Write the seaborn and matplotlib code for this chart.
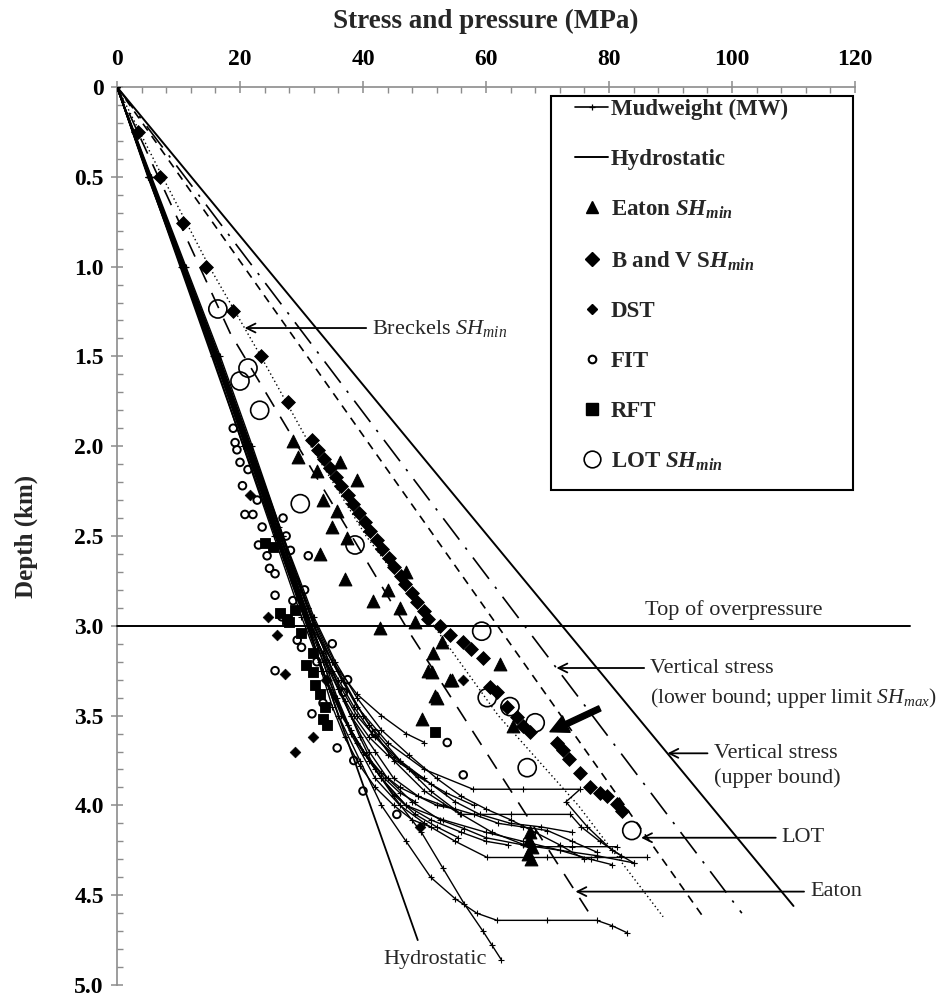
import numpy as np
import pandas as pd
import matplotlib
matplotlib.use("Agg")
import matplotlib.pyplot as plt
import seaborn as sns
from matplotlib.patches import Rectangle
from matplotlib.lines import Line2D
from matplotlib.ticker import MultipleLocator, FixedLocator

sns.set_theme(style="white")
plt.rcParams['font.family'] = ['Liberation Serif', 'DejaVu Serif']
plt.rcParams['mathtext.fontset'] = 'custom'
plt.rcParams['mathtext.rm'] = 'Liberation Serif'
plt.rcParams['mathtext.it'] = 'Liberation Serif:italic'
plt.rcParams['mathtext.bf'] = 'Liberation Serif:bold'
plt.rcParams['mathtext.bfit'] = 'Liberation Serif:italic:bold'

# ---------------- stress / pressure gradients (MPa, km) ----------------
sv_upper_p = [0.0, 110.0]
sv_upper_z = [0.0, 4.56]
sv_lower_p = [0.0, 101.6]
sv_lower_z = [0.0, 4.60]
lot_line_p = [0.0, 95.5]
lot_line_z = [0.0, 4.63]
breckels_p = [0.0, 7.4, 15.0, 23.4, 31.5, 40.5, 51.5, 62.0, 75.0, 88.8]
breckels_z = [0.0, 0.5, 1.0, 1.5, 2.0, 2.5, 3.0, 3.5, 4.0, 4.62]
eaton_line_p = [0.0, 18.4, 47.6, 76.6]
eaton_line_z = [0.0, 1.37, 3.04, 4.59]
hydro_p = [0.0, 48.9]
hydro_z = [0.0, 4.75]

# ---------------- mudweight profiles, one list pair per well ----------------
mw_a_p = [0, 5, 10.5, 16, 21, 26, 31, 35, 39, 44, 50, 57.9, 66, 75.3, 73.0, 76.5, 80.5, 84.0]
mw_a_z = [0, 0.5, 1.0, 1.5, 2.0, 2.45, 2.9, 3.2, 3.45, 3.65, 3.8, 3.91, 3.91, 3.91, 3.98, 4.12, 4.25, 4.32]
mw_b_p = [0, 5.3, 11, 16.5, 21.6, 26.8, 31.8, 36, 40, 45, 50, 55.8, 64, 73.7, 75.5, 78.5, 82]
mw_b_z = [0, 0.5, 1.0, 1.5, 2.0, 2.5, 2.95, 3.25, 3.5, 3.75, 3.92, 4.05, 4.05, 4.05, 4.12, 4.2, 4.28]
mw_c_p = [0, 5.2, 10.8, 16.2, 21.2, 26, 30.6, 34.5, 38, 42, 46, 50, 55, 60.2, 70, 78, 86.2]
mw_c_z = [0, 0.5, 1.0, 1.5, 2.0, 2.45, 2.9, 3.3, 3.6, 3.85, 4.0, 4.1, 4.2, 4.29, 4.29, 4.29, 4.29]
mw_d_p = [0, 5.4, 11, 16.6, 21.8, 27, 32, 36.5, 41, 46, 51, 56, 61, 67, 74, 81.3]
mw_d_z = [0, 0.5, 1.0, 1.5, 2.0, 2.5, 3.0, 3.3, 3.55, 3.75, 3.92, 4.05, 4.15, 4.23, 4.23, 4.23]
mw_e_p = [0, 5.1, 10.6, 15.8, 20.8, 25.5, 30, 33, 36, 39.5, 43, 47, 51, 55, 58.5, 61.8, 70, 78, 80.5, 83.0]
mw_e_z = [0, 0.5, 1.0, 1.5, 2.0, 2.45, 2.9, 3.2, 3.5, 3.75, 4.0, 4.2, 4.4, 4.52, 4.6, 4.64, 4.64, 4.64, 4.67, 4.71]
mw_f_p = [0, 5.2, 10.7, 16, 21, 26, 31, 34, 37.5, 41, 45, 49.5, 53, 56.5, 59.5, 61, 62.5]
mw_f_z = [0, 0.5, 1.0, 1.5, 2.0, 2.5, 3.0, 3.3, 3.55, 3.75, 3.95, 4.15, 4.35, 4.55, 4.7, 4.78, 4.86]
mw_g_p = [0, 5.1, 10.4, 15.6, 20.5, 25.5, 30, 34.5, 39, 43, 47, 53, 60, 66, 72, 77, 80.5]
mw_g_z = [0, 0.5, 1.0, 1.5, 2.0, 2.5, 2.95, 3.35, 3.65, 3.85, 4.0, 4.08, 4.15, 4.2, 4.25, 4.3, 4.33]
mw_h_p = [0, 5.4, 10.9, 16.3, 21.5, 26.4, 31, 35, 38, 42, 45, 49, 53, 58, 62, 66, 70, 74, 78]
mw_h_z = [0, 0.5, 1.0, 1.5, 2.0, 2.45, 2.9, 3.25, 3.5, 3.7, 3.85, 3.95, 4.0, 4.05, 4.1, 4.12, 4.14, 4.2, 4.26]
mw_i_p = [0, 5.6, 11.2, 16.8, 22, 27, 32, 35.5, 39, 43, 47.5, 52, 56, 60, 64, 68, 72, 76]
mw_i_z = [0, 0.5, 1.0, 1.5, 2.0, 2.5, 2.95, 3.2, 3.4, 3.58, 3.72, 3.85, 3.95, 4.02, 4.08, 4.15, 4.22, 4.3]
mw_j_p = [0, 5.2, 10.5, 15.8, 21, 25.8, 30.5, 33.5, 36.5, 40, 43, 47, 51, 56, 60, 63.5]
mw_j_z = [0, 0.5, 1.0, 1.5, 2.0, 2.5, 2.95, 3.25, 3.5, 3.7, 3.85, 4.0, 4.08, 4.15, 4.2, 4.22]
mw_k_p = [0, 5.5, 11, 16.5, 21, 26, 31.5, 34, 36.5, 39, 42, 46, 51, 55, 59, 64, 69, 74]
mw_k_z = [0, 0.5, 1.0, 1.5, 2.0, 2.5, 3.0, 3.2, 3.35, 3.5, 3.62, 3.75, 3.88, 3.98, 4.05, 4.1, 4.12, 4.15]
mw_l_p = [0, 5.3, 10.6, 15.9, 21.2, 26.2, 31, 34.5, 38, 41, 44, 48, 52.5, 56.5, 60, 66, 72, 78, 84]
mw_l_z = [0, 0.5, 1.0, 1.5, 2.0, 2.5, 2.95, 3.25, 3.5, 3.7, 3.85, 3.98, 4.08, 4.13, 4.18, 4.22, 4.25, 4.28, 4.32]
mw_m_p = [0, 5.3, 10.7, 16.1, 21.4, 26.5, 31.5, 34, 36, 38.5, 41, 44, 47.5, 50]
mw_m_z = [0, 0.5, 1.0, 1.5, 2.0, 2.5, 3.0, 3.2, 3.35, 3.5, 3.62, 3.72, 3.8, 3.85]
mw_n_p = [0, 5.2, 10.5, 15.9, 21.1, 26.1, 31.2, 33.5, 35.5, 37.5, 40, 43, 46, 49, 52, 55]
mw_n_z = [0, 0.5, 1.0, 1.5, 2.0, 2.5, 3.0, 3.2, 3.4, 3.55, 3.7, 3.82, 3.9, 3.95, 4.0, 4.02]
mw_o_p = [0, 5.4, 10.9, 16.2, 21.3, 26.6, 31.6, 35, 39, 43, 47, 50]
mw_o_z = [0, 0.5, 1.0, 1.5, 2.0, 2.5, 3.0, 3.2, 3.38, 3.5, 3.6, 3.65]
mw_q_p = [0, 5.2, 10.6, 16, 21.2, 26.3, 31.3, 33.2, 35, 37, 39.5, 42, 45, 48, 51]
mw_q_z = [0, 0.5, 1.0, 1.5, 2.0, 2.5, 3.0, 3.25, 3.45, 3.62, 3.78, 3.9, 4.0, 4.08, 4.12]
mw_r_p = [0, 5.3, 10.8, 16.3, 21.5, 26.6, 31.7, 33.8, 35.8, 38, 40.5, 43.5, 46, 48.5]
mw_r_z = [0, 0.5, 1.0, 1.5, 2.0, 2.5, 3.0, 3.2, 3.4, 3.58, 3.72, 3.85, 3.93, 3.98]
mw_s_p = [0, 5.2, 10.6, 16, 21.1, 26.2, 31.2, 33.5, 36, 38.5, 41.5, 45, 49, 53.5, 58]
mw_s_z = [0, 0.5, 1.0, 1.5, 2.0, 2.5, 3.0, 3.15, 3.3, 3.45, 3.6, 3.73, 3.84, 3.93, 4.0]
mw_t_p = [0, 5.4, 10.9, 16.4, 21.7, 26.9, 32, 34.5, 37, 39.5, 42, 45, 48.5, 52, 55.5]
mw_t_z = [0, 0.5, 1.0, 1.5, 2.0, 2.5, 3.0, 3.2, 3.42, 3.62, 3.8, 3.94, 4.05, 4.12, 4.18]

# ---------------- point measurements ----------------
eaton_p = [28.6, 29.5, 32.5, 36.3, 39.0, 33.5, 35.8, 34.9, 37.4, 33.0, 37.1, 41.6, 44.1, 46.0,
           42.8, 51.4, 51.2, 54.5, 52.0, 52.8, 50.6, 54.1, 51.7, 62.3, 64.4, 49.6, 67.2, 67.0,
           67.4, 66.8, 67.3, 47.0, 48.5]
eaton_z = [1.97, 2.06, 2.14, 2.09, 2.19, 2.30, 2.36, 2.45, 2.51, 2.60, 2.74, 2.86, 2.80, 2.90,
           3.01, 3.15, 3.26, 3.30, 3.40, 3.09, 3.25, 3.30, 3.39, 3.21, 3.56, 3.52, 4.15, 4.19,
           4.23, 4.27, 4.30, 2.70, 2.98]
bv_p = [3.4, 7.0, 10.7, 14.5, 18.9, 23.4, 27.8, 31.7, 32.7, 33.6, 34.7, 35.6, 36.4, 37.6,
        38.4, 39.3, 40.4, 41.2, 42.3, 43.1, 44.2, 45.0, 46.1, 46.9, 48.0, 48.8, 49.9, 50.6,
        52.5, 54.1, 56.3, 57.5, 59.5, 60.6, 61.8, 63.4, 65.0, 66.0, 67.2, 71.5, 72.5, 73.5,
        75.3, 76.9, 78.5, 79.7, 81.3, 82.1]
bv_z = [0.25, 0.5, 0.757, 1.0, 1.247, 1.498, 1.754, 1.966, 2.02, 2.07, 2.12, 2.17, 2.22, 2.27,
        2.32, 2.37, 2.42, 2.47, 2.52, 2.57, 2.62, 2.67, 2.72, 2.77, 2.82, 2.87, 2.92, 2.96,
        3.0, 3.05, 3.09, 3.13, 3.18, 3.34, 3.37, 3.45, 3.51, 3.56, 3.59, 3.65, 3.69, 3.74,
        3.82, 3.9, 3.93, 3.95, 3.99, 4.03]
dst_p = [21.6, 27.3, 31.9, 56.3, 49.3, 24.5, 29.0, 34.0, 26.0]
dst_z = [2.27, 3.27, 3.62, 3.30, 4.12, 2.95, 3.70, 3.30, 3.05]
fit_p = [18.9, 19.2, 20.0, 21.3, 20.8, 22.1, 22.8, 23.6, 24.4, 25.7, 25.7, 28.6, 31.1, 29.3,
         30.0, 25.7, 31.7, 33.5, 35.8, 36.8, 53.7, 56.3, 19.5, 20.4, 23.0, 26.8, 27.5, 24.8,
         32.5, 34.2, 38.5, 40.0, 29.0, 45.5, 27.0, 28.2, 30.5, 35.0, 37.5, 42.0]
fit_z = [1.90, 1.98, 2.09, 2.13, 2.38, 2.38, 2.30, 2.45, 2.61, 2.71, 2.83, 2.86, 2.61, 3.08,
         3.12, 3.25, 3.49, 3.43, 3.68, 3.37, 3.65, 3.83, 2.02, 2.22, 2.55, 2.95, 2.50, 2.68,
         3.20, 3.55, 3.75, 3.92, 2.75, 4.05, 2.40, 2.58, 2.80, 3.10, 3.30, 3.60]
rft_p = [26.5, 27.6, 29.0, 30.0, 24.1, 25.3, 31.9, 31.9, 32.2, 33.0, 33.5, 34.2, 51.7, 28.0,
         30.8, 33.8]
rft_z = [2.93, 2.96, 2.91, 3.04, 2.54, 2.56, 3.15, 3.26, 3.33, 3.38, 3.52, 3.55, 3.59, 2.98,
         3.22, 3.45]
lot_p = [16.4, 21.3, 20.0, 23.2, 29.8, 38.7, 59.3, 60.2, 63.9, 68.0, 66.7, 83.7]
lot_z = [1.236, 1.565, 1.637, 1.80, 2.32, 2.55, 3.03, 3.40, 3.45, 3.54, 3.79, 4.14]

overpressure_top = 3.0
x_ticks = [0, 20, 40, 60, 80, 100, 120]
y_ticks = [0, 0.5, 1.0, 1.5, 2.0, 2.5, 3.0, 3.5, 4.0, 4.5, 5.0]
y_tick_labels = ["0", "0.5", "1.0", "1.5", "2.0", "2.5", "3.0", "3.5", "4.0", "4.5", "5.0"]

wells = [
    (mw_a_p, mw_a_z), (mw_b_p, mw_b_z), (mw_c_p, mw_c_z), (mw_d_p, mw_d_z),
    (mw_e_p, mw_e_z), (mw_f_p, mw_f_z), (mw_g_p, mw_g_z), (mw_h_p, mw_h_z),
    (mw_i_p, mw_i_z), (mw_j_p, mw_j_z), (mw_k_p, mw_k_z), (mw_l_p, mw_l_z),
    (mw_m_p, mw_m_z), (mw_n_p, mw_n_z), (mw_o_p, mw_o_z), (mw_q_p, mw_q_z),
    (mw_r_p, mw_r_z), (mw_s_p, mw_s_z), (mw_t_p, mw_t_z),
]

# ---------------- figure ----------------
fig = plt.figure(figsize=(9.53, 9.96), dpi=100)
ax = fig.add_axes([117 / 953, 1 - 985 / 996, (855 - 117) / 953, (985 - 87) / 996])

def profile(p, z, **kw):
    sns.lineplot(x=p, y=z, sort=False, estimator=None, ax=ax, color="black", **kw)

profile(sv_upper_p, sv_upper_z, lw=1.4, zorder=2)
profile(sv_lower_p, sv_lower_z, lw=1.2, dashes=(16, 6, 1.5, 6), zorder=2)
profile(lot_line_p, lot_line_z, lw=1.2, dashes=(5, 4), zorder=2)
profile(breckels_p, breckels_z, lw=1.0, dashes=(1, 2), zorder=2)
profile(eaton_line_p, eaton_line_z, lw=1.2, dashes=(10, 7), zorder=2)
profile(hydro_p, hydro_z, lw=1.3, zorder=3)

for p, z in wells:
    sns.lineplot(x=p, y=z, sort=False, estimator=None, ax=ax, color="black",
                 linestyle="-", lw=1.0, marker="+", markersize=4.5, markeredgewidth=0.8,
                 markeredgecolor="black", zorder=3)

ax.axhline(overpressure_top, xmin=0, xmax=129 / 120, color="black", lw=1.4,
           clip_on=False, zorder=4)

sns.scatterplot(x=fit_p, y=fit_z, ax=ax, marker="o", s=30, facecolor="none",
                edgecolor="black", linewidth=1.4, zorder=4)
sns.scatterplot(x=rft_p, y=rft_z, ax=ax, marker="s", s=60, color="black",
                edgecolor="black", zorder=4)
sns.scatterplot(x=dst_p, y=dst_z, ax=ax, marker="D", s=30, color="black",
                edgecolor="black", zorder=4)
sns.scatterplot(x=eaton_p, y=eaton_z, ax=ax, marker="^", s=85, color="black",
                edgecolor="black", zorder=5)
sns.scatterplot(x=bv_p, y=bv_z, ax=ax, marker="D", s=50, color="black",
                edgecolor="black", zorder=5)
sns.scatterplot(x=lot_p, y=lot_z, ax=ax, marker="o", s=170, facecolor="none",
                edgecolor="black", linewidth=1.2, zorder=5)

# ---------------- axes ----------------
ax.set_xlim(0, 120)
ax.set_ylim(5.0, 0)
ax.xaxis.tick_top()
ax.xaxis.set_label_position("top")
ax.xaxis.set_major_locator(FixedLocator(x_ticks))
ax.xaxis.set_minor_locator(MultipleLocator(4))
ax.yaxis.set_major_locator(FixedLocator(y_ticks))
ax.set_yticklabels(y_tick_labels)
ax.yaxis.set_minor_locator(MultipleLocator(0.1))
for side in ("right", "bottom"):
    ax.spines[side].set_visible(False)
for side in ("top", "left"):
    ax.spines[side].set_color("#8c8c8c")
    ax.spines[side].set_linewidth(1.2)
ax.tick_params(which="major", direction="inout", length=9, width=1.1, color="#8c8c8c",
               labelsize=17, labelcolor="black")
ax.tick_params(which="minor", direction="in", length=4, width=1.0, color="#8c8c8c")
ax.tick_params(axis="x", which="both", top=True, bottom=False, labeltop=True,
               labelbottom=False, pad=8)
ax.tick_params(axis="y", which="both", left=True, right=False, pad=5)
for lbl in ax.get_xticklabels() + ax.get_yticklabels():
    lbl.set_fontweight("bold")
ax.set_xlabel("Stress and pressure (MPa)", fontsize=19.5, fontweight="bold", labelpad=15)
ax.set_ylabel("Depth (km)", fontsize=18, fontweight="bold", labelpad=26)
ax.grid(False)

# ---------------- annotations ----------------
arrow = dict(arrowstyle="->", color="black", lw=1.3, mutation_scale=16, shrinkA=2, shrinkB=0)
note_fs = 16

def note(text, xy_tip, xy_text):
    ax.annotate(text, xy=xy_tip, xytext=xy_text, fontsize=note_fs, ha="left", va="center",
                arrowprops=arrow, zorder=6, annotation_clip=False)

z = 1.342
note("Breckels $\\mathit{SH}_{\\mathit{min}}$", (np.interp(z, breckels_z, breckels_p), z), (41.5, z))
z = 3.235
note("Vertical stress", (np.interp(z, sv_lower_z, sv_lower_p), z), (86.7, z))
ax.text(86.7, 3.40, "(lower bound; upper limit $\\mathit{SH}_{\\mathit{max}}$)", fontsize=15.5,
        ha="left", va="center")
z = 3.71
note("Vertical stress", (np.interp(z, sv_upper_z, sv_upper_p), z), (97.0, z))
ax.text(97.0, 3.85, "(upper bound)", fontsize=note_fs, ha="left", va="center")
z = 4.18
note("LOT", (np.interp(z, lot_line_z, lot_line_p) - 1.0, z), (108.1, z))
z = 4.48
note("Eaton", (np.interp(z, eaton_line_z, eaton_line_p), z), (112.7, z))
ax.text(100.3, 2.91, "Top of overpressure", fontsize=note_fs, ha="center", va="center")
ax.text(51.7, 4.86, "Hydrostatic", fontsize=note_fs, ha="center", va="center")
ax.annotate("", xy=(70.4, 3.59), xytext=(78.5, 3.46),
            arrowprops=dict(width=4, headwidth=13, headlength=13, color="black"), zorder=6)

# ---------------- legend ----------------
ax.add_patch(Rectangle((0.588, 0.551), 0.409, 0.439, transform=ax.transAxes,
                       facecolor="white", edgecolor="black", lw=1.5, zorder=8))
handles = [
    Line2D([], [], color="black", lw=1.2, marker="+", ms=5, mew=0.9),
    Line2D([], [], color="black", lw=1.4),
    Line2D([], [], ls="none", marker="^", ms=9, color="black"),
    Line2D([], [], ls="none", marker="D", ms=7, color="black"),
    Line2D([], [], ls="none", marker="D", ms=5.5, color="black"),
    Line2D([], [], ls="none", marker="o", ms=5.5, mfc="none", mec="black", mew=1.5),
    Line2D([], [], ls="none", marker="s", ms=8, color="black"),
    Line2D([], [], ls="none", marker="o", ms=12, mfc="none", mec="black", mew=1.2),
]
labels = ["Mudweight (MW)", "Hydrostatic", "Eaton $\\mathbfit{SH}_{\\mathbfit{min}}$",
          "B and V S$\\mathbfit{H}_{\\mathbfit{min}}$", "DST", "FIT", "RFT",
          "LOT $\\mathbfit{SH}_{\\mathbfit{min}}$"]
leg = ax.legend(handles, labels, loc="upper left", bbox_to_anchor=(0.6206, 0.9867),
                frameon=False, borderpad=0, borderaxespad=0, handlelength=1.45,
                handletextpad=0.1, labelspacing=1.25,
                prop={"family": "Liberation Serif", "weight": "bold", "size": 16.5})
leg.set_zorder(9)

fig.savefig("out.png", dpi=100)
